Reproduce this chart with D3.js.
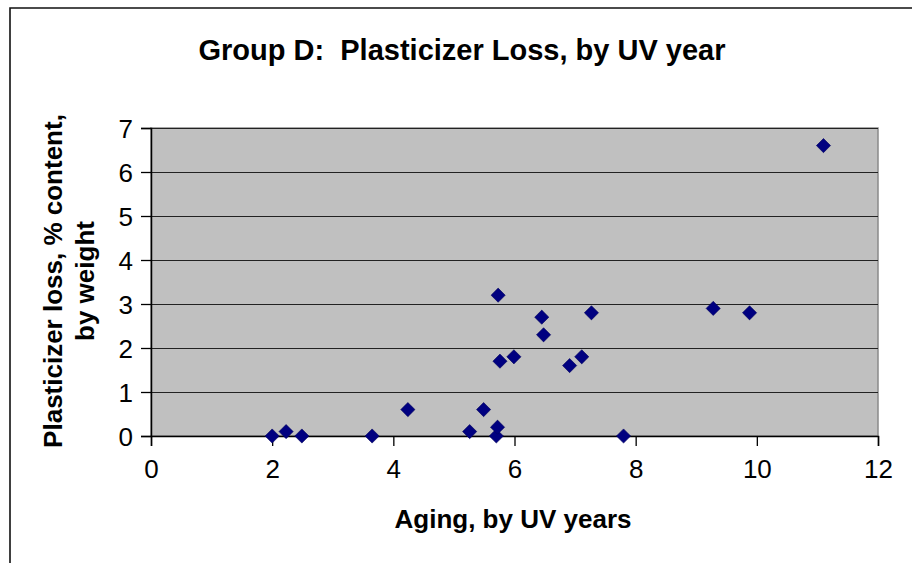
<!DOCTYPE html>
<html>
<head>
<meta charset="utf-8">
<script src="https://cdn.jsdelivr.net/npm/d3@7"></script>
<style>
  html, body { margin: 0; padding: 0; background: #fff; }
  svg { display: block; font-family: "Liberation Sans", Arial, sans-serif; }
</style>
</head>
<body>
<svg id="chart" width="912" height="563"></svg>
<script>
const titleText = "Group D:  Plasticizer Loss, by UV year";
const xAxisTitle = "Aging, by UV years";
const yAxisTitleLines = ["Plasticizer loss, % content,", "by weight"];
const xTicks = [0, 2, 4, 6, 8, 10, 12];
const yTicks = [0, 1, 2, 3, 4, 5, 6, 7];
const uvYears = [2.0, 2.23, 2.49, 3.65, 4.24, 5.26, 5.49, 5.70, 5.72, 5.73, 5.76, 5.99, 6.45, 6.48, 6.91, 7.11, 7.27, 7.80, 9.28, 9.88, 11.10];
const plasticizerLoss = [0, 0.1, 0, 0, 0.6, 0.1, 0.6, 0, 0.2, 3.2, 1.7, 1.8, 2.7, 2.3, 1.6, 1.8, 2.8, 0, 2.9, 2.8, 6.6];

const svg = d3.select("#chart");
const W = 912, H = 563;
const plot = { left: 151, right: 878, top: 128, bottom: 436 };

// outer frame (partial, continues past the image)
svg.append("path")
  .attr("d", `M10,${H + 2} L10,8 L${W + 2},8`)
  .attr("fill", "none").attr("stroke", "#111").attr("stroke-width", 1.6);

const x = d3.scaleLinear().domain([0, 12]).range([plot.left, plot.right]);
const y = d3.scaleLinear().domain([0, 7]).range([plot.bottom, plot.top]);

// plot background
svg.append("rect")
  .attr("x", plot.left).attr("y", plot.top)
  .attr("width", plot.right - plot.left).attr("height", plot.bottom - plot.top)
  .attr("fill", "#c0c0c0").attr("stroke", "#8a8a8a").attr("stroke-width", 1.5);

// gridlines
svg.append("g").selectAll("line").data(yTicks.filter(d => d > 0)).join("line")
  .attr("x1", plot.left).attr("x2", plot.right)
  .attr("y1", d => Math.round(y(d)) + 0.5).attr("y2", d => Math.round(y(d)) + 0.5)
  .attr("stroke", "#222").attr("stroke-width", 1);

// axes
const yAxis = d3.axisLeft(y).tickValues(yTicks).tickSize(10).tickPadding(8).tickFormat(d3.format("d"));
const gy = svg.append("g").attr("transform", `translate(${plot.left},0)`).call(yAxis);
const xAxis = d3.axisBottom(x).tickValues(xTicks).tickSize(10).tickPadding(14).tickFormat(d3.format("d"));
const gx = svg.append("g").attr("transform", `translate(0,${plot.bottom})`).call(xAxis);
[gx, gy].forEach(g => {
  g.select(".domain").attr("stroke", "#000").attr("stroke-width", 1.5);
  g.selectAll(".tick line").attr("stroke", "#000").attr("stroke-width", 1.3);
  g.selectAll(".tick text").attr("fill", "#000")
    .style("font-family", "'Liberation Sans', Arial, sans-serif").style("font-size", "26px");
});
gy.selectAll(".tick text").attr("dy", "0.36em");

// points
svg.append("g").selectAll("path").data(uvYears.map((v, i) => [v, plasticizerLoss[i]])).join("path")
  .attr("d", d3.symbol().type(d3.symbolDiamond2 || d3.symbolSquare).size(128))
  .attr("transform", d => `translate(${x(d[0])},${y(d[1])}) rotate(${d3.symbolDiamond2 ? 0 : 45})`)
  .attr("fill", "#000080").attr("stroke", "#00005a").attr("stroke-width", 0.6);

// titles
svg.append("text")
  .attr("x", 462).attr("y", 60).attr("text-anchor", "middle")
  .attr("font-weight", "bold").attr("font-size", 29).attr("fill", "#000")
  .style("white-space", "pre").attr("xml:space", "preserve")
  .text(titleText);

svg.append("text")
  .attr("x", 513).attr("y", 528).attr("text-anchor", "middle")
  .attr("font-weight", "bold").attr("font-size", 26).attr("fill", "#000")
  .text(xAxisTitle);

const yt = svg.append("text")
  .attr("transform", "translate(0,281) rotate(-90)")
  .attr("text-anchor", "middle").attr("font-weight", "bold").attr("font-size", 26).attr("fill", "#000");
yt.selectAll("tspan").data(yAxisTitleLines).join("tspan")
  .attr("x", 0).attr("y", (d, i) => 62 + i * 32)
  .text(d => d);
</script>
</body>
</html>
